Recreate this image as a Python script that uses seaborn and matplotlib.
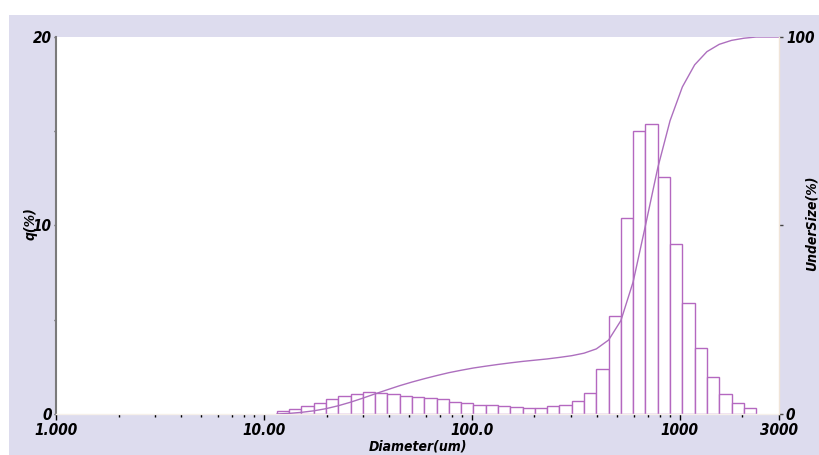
import numpy as np
import pandas as pd
import matplotlib
matplotlib.use("Agg")
import matplotlib.pyplot as plt
from matplotlib.patches import Rectangle
from matplotlib.ticker import FixedLocator, LogLocator, NullFormatter
import seaborn as sns

sns.set_theme(style="white")
plt.rcParams["font.family"] = ["DejaVu Sans"]
plt.rcParams["font.stretch"] = "condensed"
plt.rcParams["text.color"] = "black"
plt.rcParams["axes.labelcolor"] = "black"
plt.rcParams["xtick.color"] = "black"
plt.rcParams["ytick.color"] = "black"

# size classes (um), log spaced like the analyser output
EDGE_LO = 11.53
EDGE_HI = 2328.0
N_BINS = 39

# frequency per class q(%)
q_pct = [0.16, 0.28, 0.40, 0.58, 0.78, 0.95, 1.08, 1.15, 1.10, 1.08,
         0.97, 0.89, 0.83, 0.78, 0.65, 0.60, 0.49, 0.46, 0.42, 0.39,
         0.33, 0.33, 0.41, 0.46, 0.67, 1.14, 2.37, 5.20, 10.38, 15.03,
         15.37, 12.59, 9.00, 5.90, 3.52, 1.95, 1.06, 0.57, 0.33]

x_ticks = [1, 10, 100, 1000, 3000]
x_ticklabels = ["1.000", "10.00", "100.0", "1000", "3000"]
q_ticks = [0, 10, 20]
under_ticks = [0, 50, 100]
under_ticklabels = ["0", "", "100"]

X_MIN, X_MAX = 1, 3000
Q_MAX = 20
U_MAX = 100

BAR_EDGE = "#b468c0"
LINE_COL = "#ad6fbe"
BG = "#dddcee"
TXT = dict(style="italic", weight="bold", stretch="condensed")
FS_TICK = 11
FS_LABEL = 10

edges = np.geomspace(EDGE_LO, EDGE_HI, N_BINS + 1)
centers = np.sqrt(edges[:-1] * edges[1:])
df = pd.DataFrame({"diameter": centers, "q": q_pct})

cum = np.concatenate([[0], np.cumsum(q_pct)])
cum = cum / cum[-1] * 100
cum_df = pd.DataFrame({"diameter": np.append(edges, X_MAX),
                       "under": np.append(cum, cum[-1])})

fig = plt.figure(figsize=(8.19, 4.55), dpi=100)
fig.patch.set_facecolor("white")
fig.patches.append(Rectangle((9 / 819, 0), 1, 1 - 15 / 455, transform=fig.transFigure,
                             facecolor=BG, edgecolor="none", zorder=-10))

ax = fig.add_axes([56 / 819, 41 / 455, 723 / 819, 377 / 455])
ax.set_facecolor("white")

# bins have to be given in log10 space when log_scale is on
sns.histplot(data=df, x="diameter", weights="q", bins=list(np.log10(edges)), log_scale=True,
             stat="count", element="bars", fill=True, color="white", alpha=1,
             edgecolor=BAR_EDGE, linewidth=1.0, ax=ax)

ax.set_xlim(X_MIN, X_MAX)
ax.set_ylim(0, Q_MAX)
ax.xaxis.set_major_locator(FixedLocator(x_ticks))
ax.set_xticklabels(x_ticklabels, fontsize=FS_TICK, **TXT)
ax.xaxis.set_minor_locator(LogLocator(base=10, subs=np.arange(2, 10)))
ax.xaxis.set_minor_formatter(NullFormatter())
ax.set_yticks(q_ticks)
ax.set_yticklabels([str(t) for t in q_ticks], fontsize=FS_TICK, **TXT)
ax.set_yticks([5, 15], minor=True)
ax.tick_params(axis="x", which="major", direction="out", length=4, width=1, pad=2.5,
               color="black", bottom=True)
ax.tick_params(axis="x", which="minor", direction="out", length=2, width=1,
               color="black", bottom=True)
ax.tick_params(axis="y", which="both", direction="out", length=1.5, width=1, pad=1.5,
               color="#444444", left=True)
ax.grid(False)

ax.spines["top"].set_visible(False)
ax.spines["right"].set_visible(False)
ax.spines["left"].set_color("#7a7a7a")
ax.spines["left"].set_linewidth(1.5)
ax.spines["bottom"].set_color("#f6f0ea")
ax.spines["bottom"].set_linewidth(1.0)

ax.set_xlabel("Diameter(um)", fontsize=FS_LABEL, **TXT)
ax.xaxis.set_label_coords(0.5, -(447 - 414) / 377)
ax.xaxis.label.set_va("center")
ax.set_ylabel("q(%)", fontsize=FS_LABEL, **TXT)
ax.yaxis.set_label_coords(-(56 - 31) / 723, (414 - 224) / 377)
ax.yaxis.label.set_va("center")

ax2 = ax.twinx()
sns.lineplot(data=cum_df, x="diameter", y="under", color=LINE_COL, linewidth=1.0, ax=ax2)
ax2.set_xlim(X_MIN, X_MAX)
ax2.set_ylim(0, U_MAX)
ax2.set_yticks(under_ticks)
ax2.set_yticklabels(under_ticklabels, fontsize=FS_TICK, **TXT)
ax2.tick_params(axis="y", direction="out", length=3, width=1, pad=2,
                color="#444444", right=True)
ax2.grid(False)
for side in ["top", "left", "bottom"]:
    ax2.spines[side].set_visible(False)
ax2.spines["right"].set_color("#f0e4d8")
ax2.spines["right"].set_linewidth(1.0)
ax2.set_ylabel("UnderSize(%)", fontsize=FS_LABEL, **TXT)
ax2.yaxis.set_label_coords((812 - 56) / 723, (414 - 223) / 377)
ax2.yaxis.label.set_rotation(90)
ax2.yaxis.label.set_va("center")

fig.savefig("out.png", dpi=100, facecolor=fig.get_facecolor())
